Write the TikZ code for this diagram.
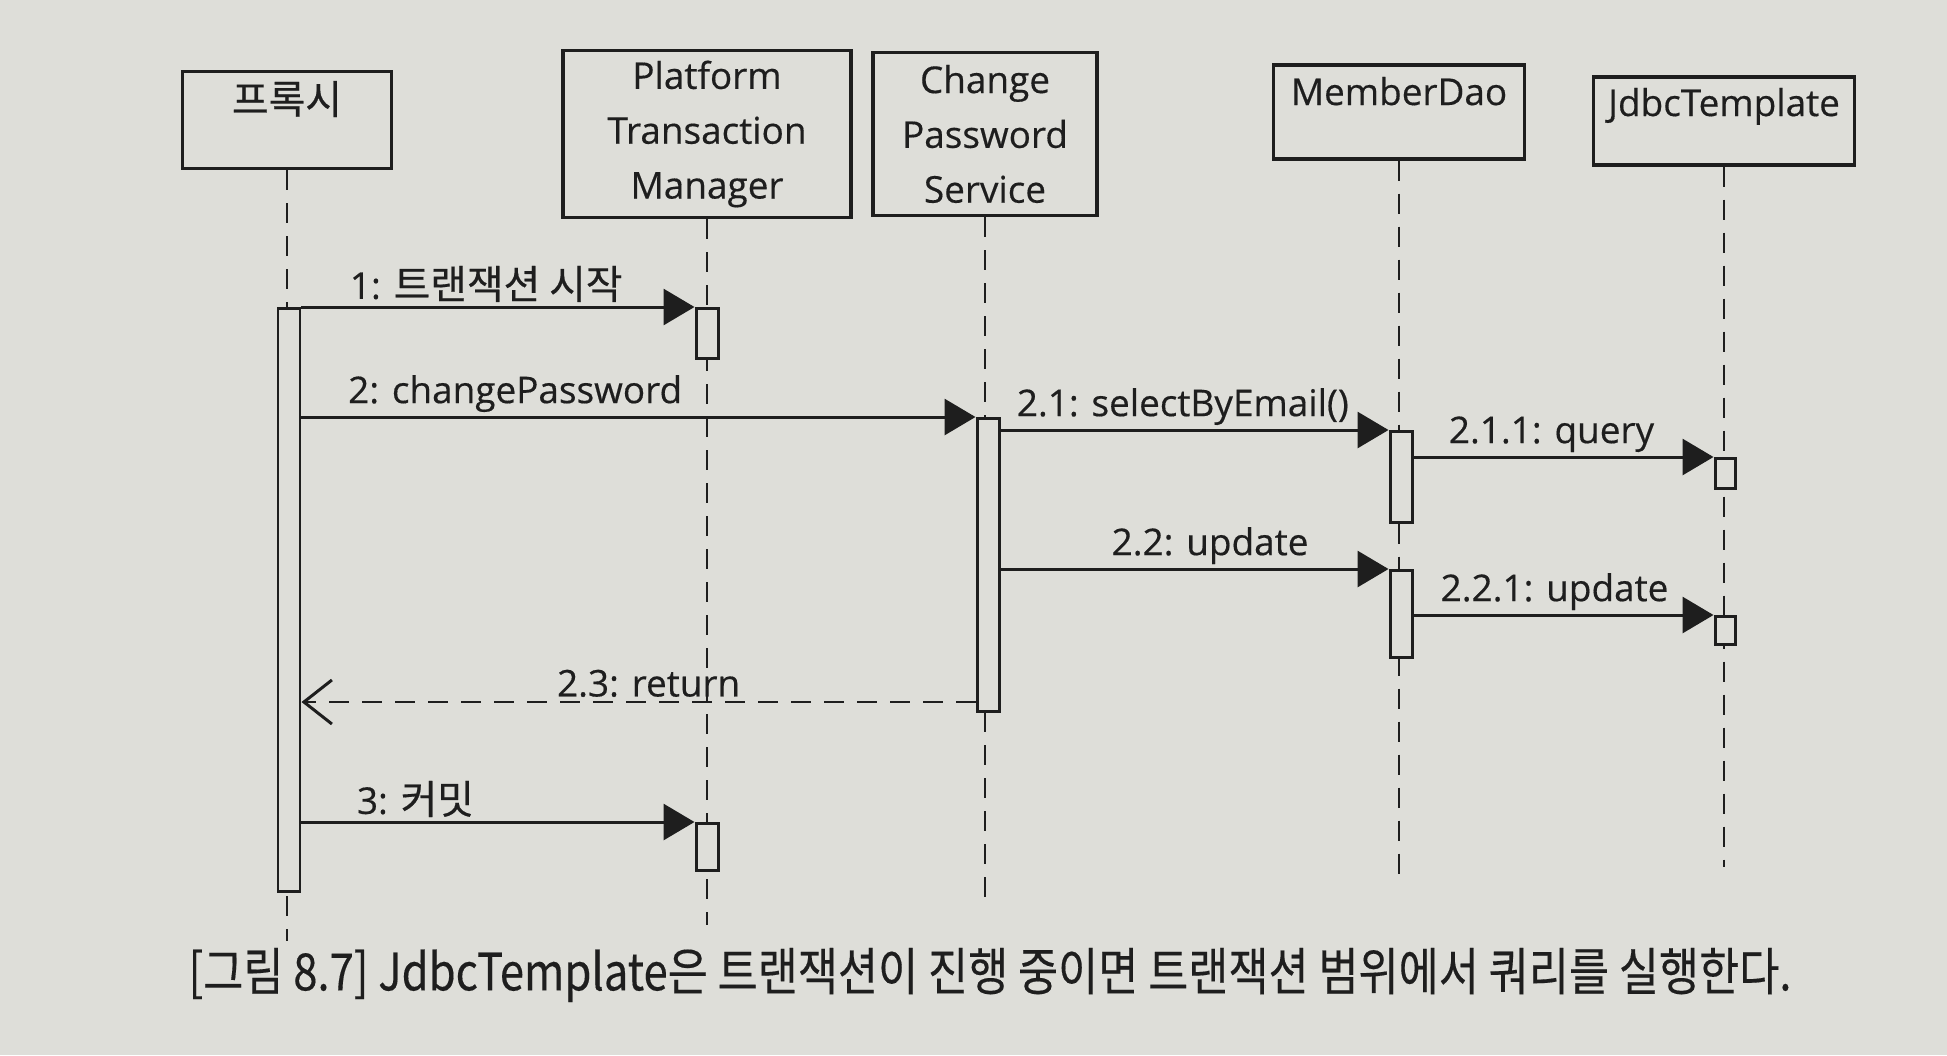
\documentclass[tikz,border=0pt]{standalone}
\usepackage{fontspec}
\setmainfont{Open Sans}[FakeBold=0.4]
\newfontfamily\kr{Noto Sans CJK KR}[Scale=1.08,FakeBold=0.4]
\newfontfamily\capfont{Noto Sans CJK KR}[FakeBold=0.3]
\usetikzlibrary{arrows.meta,positioning}
\definecolor{PaperGray}{RGB}{222,222,217}
\definecolor{InkBlack}{RGB}{30,30,30}

\begin{document}
\begin{tikzpicture}[x=0.1mm,y=-0.1mm,
    obj/.style={draw=InkBlack,line width=0.95pt,inner sep=0pt,text=InkBlack,font=\fontsize{10.5}{15.6}\selectfont},
    life/.style={draw=InkBlack,line width=0.75pt,dash pattern=on 2mm off 1.3mm},
    act/.style={draw=InkBlack,line width=0.85pt,fill=PaperGray,minimum width=2.2mm,inner sep=0pt,anchor=north},
    msg/.style={draw=InkBlack,line width=0.85pt,-{Triangle[length=3.1mm,width=3.6mm]}},
    ret/.style={draw=InkBlack,line width=0.85pt,dash pattern=on 2mm off 1.3mm,-{Straight Barb[length=2.8mm,width=4.4mm]}},
    lbl/.style={text=InkBlack,inner sep=1pt,font=\fontsize{10.5}{12}\selectfont}]
  \fill[PaperGray] (0,0) rectangle (1947,1055);
  \useasboundingbox (0,0) rectangle (1947,1055);

  % objects
  \node[obj,minimum width=20.9mm,minimum height=9.7mm,text depth=4.5mm] (proxy) at (287,120) {\kr 프록시};
  \node[obj,align=center,minimum width=28.8mm,minimum height=16.7mm] (ptm) at (707,134) {Platform\\Transaction\\Manager};
  \node[obj,align=center,minimum width=22.4mm,minimum height=16.3mm] (cps) at (985,134) {Change\\Password\\Service};
  \node[obj,minimum width=25.1mm,minimum height=9.4mm,text depth=4.2mm] (dao) at (1399,112) {MemberDao};
  \node[obj,minimum width=26.1mm,minimum height=8.8mm,text depth=3.8mm] (jdbc) at (1724,121) {JdbcTemplate};

  % lifelines
  \coordinate (proxyEnd) at (287,941);
  \coordinate (ptmEnd) at (707,925);
  \coordinate (cpsEnd) at (985,910);
  \coordinate (daoEnd) at (1399,882);
  \coordinate (jdbcEnd) at (1724,867);
  \draw[life] (proxy) -- (proxyEnd);
  \draw[life] (ptm) -- (ptmEnd);
  \draw[life] (cps) -- (cpsEnd);
  \draw[life] (dao) -- (daoEnd);
  \draw[life] (jdbc) -- (jdbcEnd);

  % activations
  \node[act,minimum height=58.3mm] (proxyAct) at (289,307) {};
  \node[act,minimum height=5mm] (ptmAct1) at (707,307) {};
  \node[act,minimum height=4.7mm] (ptmAct2) at (707,822) {};
  \node[act,minimum height=29.3mm] (cpsAct) at (988,417) {};
  \node[act,minimum height=9.1mm] (daoAct1) at (1401,430) {};
  \node[act,minimum height=8.7mm] (daoAct2) at (1401,569) {};
  \node[act,minimum height=3mm,minimum width=2mm] (jdbcAct1) at (1725,457) {};
  \node[act,minimum height=2.8mm,minimum width=2mm] (jdbcAct2) at (1725,615) {};

  % messages
  \draw[msg] (proxyAct.north east) -- (ptmAct1.north west)
    node[lbl,above,pos=0.47] {1: {\kr 트랜잭션 시작}};
  \draw[msg] (proxyAct.east |- cpsAct.north) -- (cpsAct.north west)
    node[lbl,above,pos=0.317] {2: changePassword};
  \draw[msg] (cpsAct.east |- daoAct1.north) -- (daoAct1.north west)
    node[lbl,above,pos=0.47] {2.1: selectByEmail()};
  \draw[msg] (daoAct1.east |- jdbcAct1.north) -- (jdbcAct1.north west)
    node[lbl,above,pos=0.46] {2.1.1: query};
  \draw[msg] (cpsAct.east |- daoAct2.north) -- (daoAct2.north west)
    node[lbl,above,pos=0.54] {2.2: update};
  \draw[msg] (daoAct2.east |- jdbcAct2.north) -- (jdbcAct2.north west)
    node[lbl,above,pos=0.47] {2.2.1: update};
  \coordinate (retFrom) at ([yshift=1.1mm]cpsAct.south west);
  \draw[ret] (retFrom) -- (proxyAct.east |- retFrom)
    node[lbl,above,pos=0.485] {2.3: return};
  \draw[msg] (proxyAct.east |- ptmAct2.north) -- (ptmAct2.north west)
    node[lbl,above,pos=0.29] {3: {\kr 커밋}};

  % caption
  \node[text=InkBlack,inner sep=0pt] (caption) at (990,975)
    {\scalebox{0.85}[1]{\capfont\fontsize{14.6}{17}\selectfont [그림 8.7] JdbcTemplate은 트랜잭션이 진행 중이면 트랜잭션 범위에서 쿼리를 실행한다.}};
\end{tikzpicture}
\end{document}
